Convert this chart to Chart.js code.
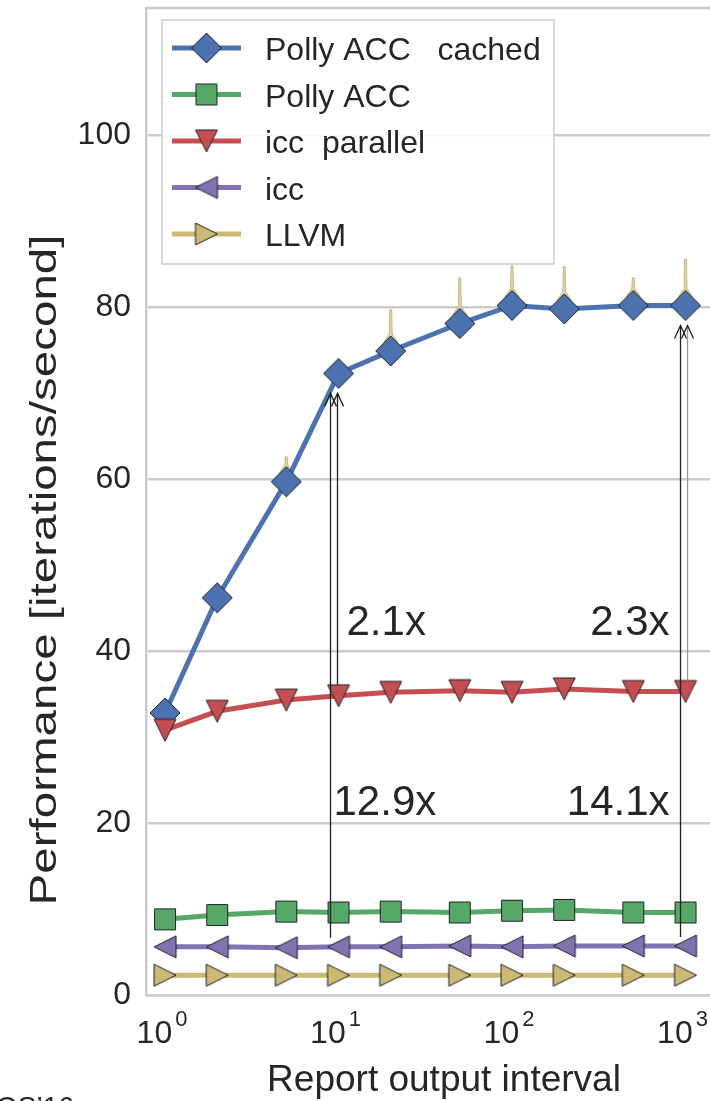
<!DOCTYPE html>
<html>
<head>
<meta charset="utf-8">
<script src="https://cdn.jsdelivr.net/npm/chart.js@4.4.1/dist/chart.umd.min.js"></script>
<style>
  html, body { margin: 0; padding: 0; background: #fff; }
  #wrap { width: 710px; height: 1101px; position: relative; }
</style>
</head>
<body>
<div id="wrap"><canvas id="chart"></canvas></div>
<script>
// --- data ---
const intervals = [1, 2, 5, 10, 20, 50, 100, 200, 500, 1000];
const pollyAccCached = [32.8, 46.2, 59.7, 72.3, 74.9, 78.1, 80.2, 79.8, 80.2, 80.2];
const pollyAccCachedHi = [null, null, 62.6, null, 79.7, 83.4, 84.8, 84.7, 83.4, 85.6];
const pollyAcc = [8.8, 9.3, 9.7, 9.6, 9.7, 9.6, 9.8, 9.9, 9.6, 9.6];
const iccParallel = [30.8, 33.0, 34.3, 34.8, 35.2, 35.4, 35.2, 35.6, 35.3, 35.3];
const icc = [5.6, 5.6, 5.5, 5.6, 5.6, 5.7, 5.6, 5.7, 5.7, 5.7];
const llvm = [2.3, 2.3, 2.3, 2.3, 2.3, 2.3, 2.3, 2.3, 2.3, 2.3];
const seriesNames = ["Polly ACC   cached", "Polly ACC", "icc  parallel", "icc", "LLVM"];
const yTicks = [0, 20, 40, 60, 80, 100];
const xTicks = [1, 10, 100, 1000];
// speedup arrows are drawn at these intervals
const speedupAt = [10, 1000];

// --- look ---
const FONT = '"Liberation Sans", Arial, sans-serif';
const TEXT = "#262626";
const GRID = "#cccccc";
const colors = ["#4C72B0", "#55A868", "#C44E52", "#8172B2", "#CCB974"];
const shapes = ["diamond", "square", "down", "left", "right"];
const sizes = [30, 21, 22, 22, 22];
const seriesValues = [pollyAccCached, pollyAcc, iccParallel, icc, llvm];

// matplotlib-like markers (centered on their bounding box)
function makeMarker(shape, size, fill) {
  const s = 2 * Math.ceil(size / 2) + 4;
  const c = document.createElement("canvas");
  c.width = c.height = s;
  const g = c.getContext("2d");
  const m = s / 2, h = size / 2;
  g.beginPath();
  if (shape === "diamond") { g.moveTo(m, m - h); g.lineTo(m + h, m); g.lineTo(m, m + h); g.lineTo(m - h, m); }
  else if (shape === "square") { g.rect(m - h, m - h, size, size); }
  else if (shape === "down") { g.moveTo(m - h, m - h); g.lineTo(m + h, m - h); g.lineTo(m, m + h); }
  else if (shape === "left") { g.moveTo(m - h, m); g.lineTo(m + h, m - h); g.lineTo(m + h, m + h); }
  else if (shape === "right") { g.moveTo(m + h, m); g.lineTo(m - h, m - h); g.lineTo(m - h, m + h); }
  g.closePath();
  g.fillStyle = fill;
  g.fill();
  g.lineWidth = 1;
  g.strokeStyle = "#222";
  g.stroke();
  return c;
}
const markers = shapes.map((s, i) => makeMarker(s, sizes[i], colors[i]));

function text(ctx, str, x, y, size, align, sx) {
  ctx.save();
  ctx.font = size + "px " + FONT;
  ctx.fillStyle = TEXT;
  ctx.textBaseline = "alphabetic";
  ctx.textAlign = align || "left";
  ctx.translate(x, y);
  ctx.scale(sx || 1, 1);
  ctx.fillText(str, 0, 0);
  ctx.restore();
}

// --- extra drawing: frame, ci spikes, arrows, legend, labels ---
const decorPlugin = {
  id: "decor",
  beforeDatasetsDraw(chart) {
    const { ctx, chartArea: a, scales: { x, y } } = chart;
    ctx.save();
    ctx.strokeStyle = GRID;
    ctx.lineWidth = 2.5;
    ctx.beginPath();
    ctx.moveTo(a.left, a.top);
    ctx.lineTo(a.right, a.top);
    ctx.stroke();
    // thin ci spikes above the cached series
    ctx.fillStyle = "#ddd5a4";
    ctx.strokeStyle = "#b3a866";
    ctx.lineWidth = 0.7;
    pollyAccCachedHi.forEach((hi, i) => {
      if (hi == null) return;
      const px = x.getPixelForValue(intervals[i]);
      const yc = y.getPixelForValue(pollyAccCached[i]);
      const yt = y.getPixelForValue(hi);
      ctx.beginPath();
      ctx.moveTo(px - 1, yt);
      ctx.lineTo(px + 1, yt);
      ctx.lineTo(px + 1.5, yc - 17);
      ctx.lineTo(px + 7, yc - 9);
      ctx.lineTo(px - 7, yc - 9);
      ctx.lineTo(px - 1.5, yc - 17);
      ctx.closePath();
      ctx.fill();
      ctx.stroke();
    });
    ctx.restore();
  },
  afterDatasetsDraw(chart) {
    const { ctx, scales: { x, y } } = chart;
    ctx.save();
    speedupAt.forEach((at, k) => {
      const i = intervals.indexOf(at);
      const px = x.getPixelForValue(at);
      const tip = y.getPixelForValue(pollyAccCached[i]) + 20;
      const arrows = [
        { base: icc[i], dx: k === 0 ? -8 : -5, off: 9, color: "#222" },
        { base: iccParallel[i], dx: k === 0 ? -1 : 2, off: 11, color: k === 0 ? "#222" : "#999" }
      ];
      arrows.forEach(a => {
        const ax = px + a.dx;
        ctx.strokeStyle = a.color;
        ctx.lineWidth = 1.3;
        ctx.beginPath();
        ctx.moveTo(ax, y.getPixelForValue(a.base) - a.off);
        ctx.lineTo(ax, tip);
        ctx.stroke();
        ctx.strokeStyle = "#222";
        ctx.beginPath();
        ctx.moveTo(ax - 6, tip + 13);
        ctx.lineTo(ax, tip);
        ctx.lineTo(ax + 6, tip + 13);
        ctx.stroke();
      });
      const s1 = (pollyAccCached[i] / iccParallel[i]).toFixed(1) + "x";
      const s2 = (pollyAccCached[i] / icc[i]).toFixed(1) + "x";
      if (k === 0) {
        text(ctx, s1, px + 8, y.getPixelForValue(41.9), 42, "left");
        text(ctx, s2, px - 5, y.getPixelForValue(20.9), 42, "left");
      } else {
        text(ctx, s1, px - 16, y.getPixelForValue(41.9), 42, "right");
        text(ctx, s2, px - 16, y.getPixelForValue(20.9), 42, "right");
      }
    });
    ctx.restore();
  },
  afterDraw(chart) {
    const { ctx, scales: { x } } = chart;
    ctx.save();
    // legend
    ctx.fillStyle = "rgba(255,255,255,0.85)";
    ctx.strokeStyle = GRID;
    ctx.lineWidth = 1.5;
    ctx.fillRect(162, 20, 392, 244);
    ctx.strokeRect(162, 20, 392, 244);
    seriesNames.forEach((name, i) => {
      const cy = 48 + i * 46.5;
      ctx.strokeStyle = colors[i];
      ctx.lineWidth = 5;
      ctx.beginPath();
      ctx.moveTo(172, cy);
      ctx.lineTo(241, cy);
      ctx.stroke();
      const m = markers[i];
      ctx.drawImage(m, 206.5 - m.width / 2, cy - m.height / 2);
      text(ctx, name, 265, cy + 12, 32, "left");
    });
    // x tick labels 10^n
    xTicks.forEach(v => {
      const px = x.getPixelForValue(v);
      const sup = String(Math.round(Math.log10(v)));
      ctx.font = "32px " + FONT;
      const w1 = ctx.measureText("10").width;
      ctx.font = "22px " + FONT;
      const w2 = ctx.measureText(sup).width;
      const left = px - 3 - (w1 + 3 + w2) / 2;
      text(ctx, "10", left, 1043, 32, "left");
      text(ctx, sup, left + w1 + 3, 1026, 22, "left");
    });
    // axis titles
    text(ctx, "Report output interval", 444, 1091, 37, "center");
    ctx.save();
    ctx.translate(56, 570);
    ctx.rotate(-Math.PI / 2);
    text(ctx, "Performance [iterations/second]", 0, 0, 36, "center", 1.32);
    ctx.restore();
    // venue note cut off at the bottom edge
    text(ctx, "OS\u201916", -4, 1116, 28, "left");
    ctx.restore();
  }
};

const datasets = seriesValues.map((vals, i) => ({
  label: seriesNames[i],
  data: intervals.map((v, j) => ({ x: v, y: vals[j] })),
  borderColor: colors[i],
  backgroundColor: colors[i],
  borderWidth: 5,
  pointStyle: markers[i],
  pointRadius: 10,
  tension: 0,
  order: seriesValues.length - i
}));

new Chart(document.getElementById("chart"), {
  type: "line",
  data: { datasets },
  options: {
    responsive: true,
    maintainAspectRatio: false,
    animation: false,
    layout: { autoPadding: false, padding: { top: 8, right: 0, bottom: 0, left: 0 } },
    plugins: { legend: { display: false }, tooltip: { enabled: false } },
    scales: {
      x: {
        type: "logarithmic",
        min: 0.777,
        max: 1384,
        ticks: { display: false },
        grid: { display: false },
        border: { display: true, color: GRID, width: 2.5 },
        afterFit: s => { s.height = 106; s.paddingLeft = 0; s.paddingRight = 0; }
      },
      y: {
        min: 0,
        max: 114.8,
        afterBuildTicks: s => { s.ticks = yTicks.map(v => ({ value: v })); },
        ticks: { font: { family: FONT, size: 32 }, color: TEXT, padding: 15 },
        grid: { color: GRID, lineWidth: 2.5, drawTicks: false },
        border: { display: true, color: GRID, width: 2.5 },
        afterFit: s => { s.width = 146; s.paddingTop = 0; s.paddingBottom = 0; }
      }
    }
  },
  plugins: [decorPlugin]
});
</script>
</body>
</html>
